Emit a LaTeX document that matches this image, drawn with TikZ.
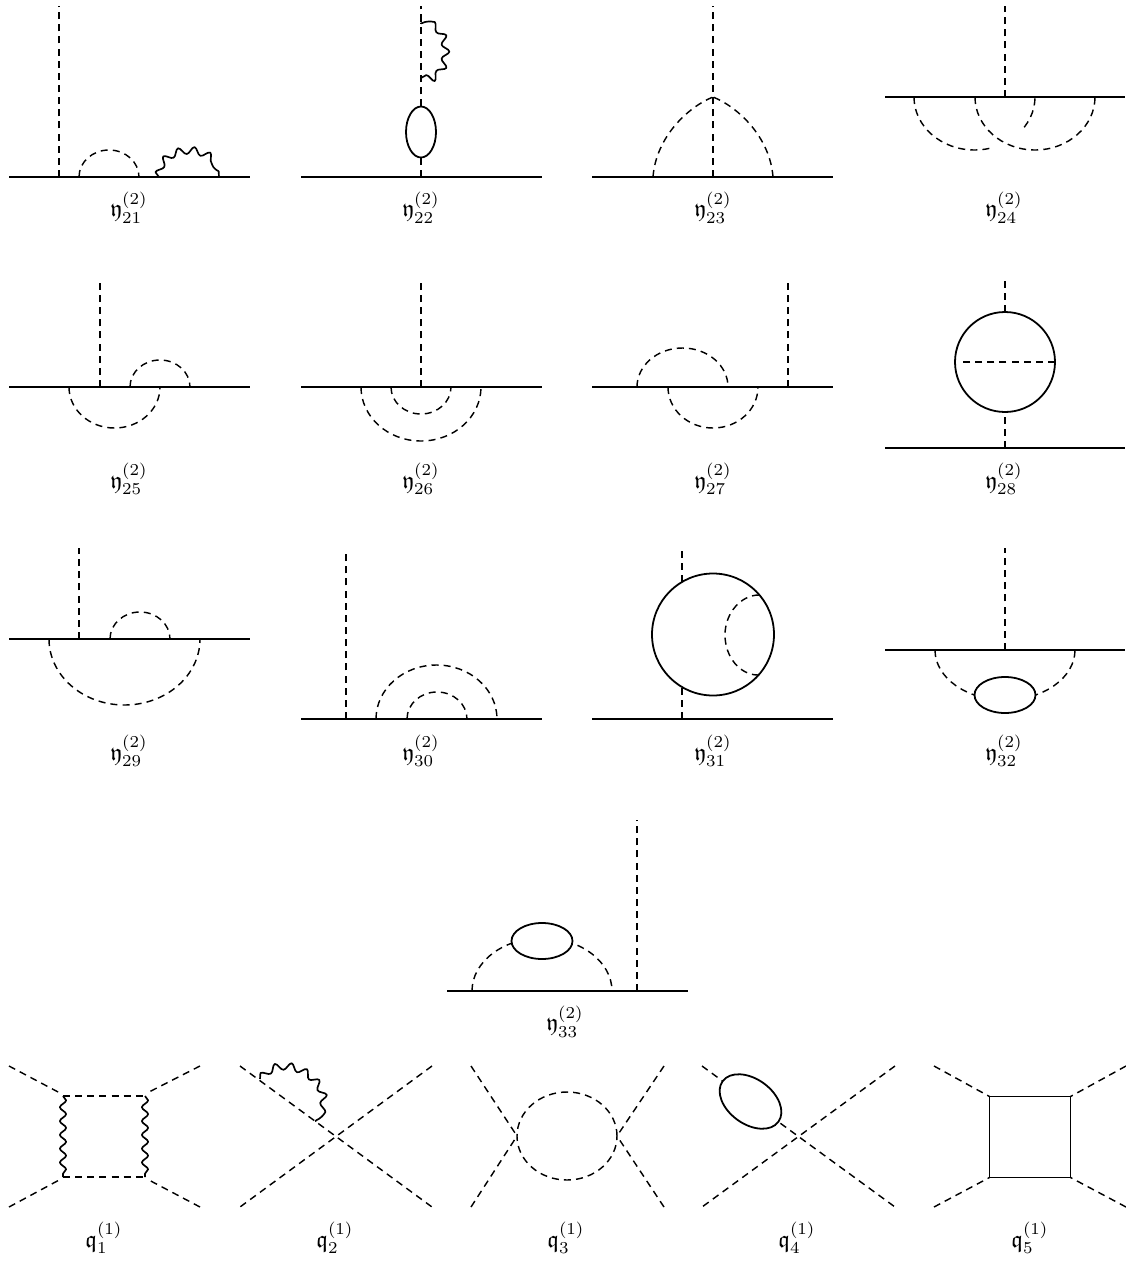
\documentclass[tikz,border=0pt]{standalone}
\usepackage{amsmath,amssymb}
\usetikzlibrary{decorations.pathmorphing,shapes.geometric,calc}
\tikzset{
  x=0.42pt,y=-0.42pt,
  solidl/.style={line width=0.85pt},
  dashl/.style={line width=0.6pt,dash pattern=on 2.95pt off 2.15pt},
  wavel/.style={line width=0.7pt,line join=round,decorate,decoration={snake,segment length=5.8pt,amplitude=1.3pt}},
  wavearc/.style={line width=0.7pt,line join=round,decorate,decoration={snake,segment length=6.4pt,amplitude=1.5pt}},
  thinsolid/.style={line width=0.75pt},
  loopn/.style={ellipse,draw,line width=0.75pt,fill=white,inner sep=0pt,outer sep=0pt},
  dashloop/.style={ellipse,draw,dashl,inner sep=0pt,outer sep=0pt},
  lab/.style={inner sep=0pt,anchor=center},
}
% straight segment between named coordinates
\newcommand{\Seg}[6]{\coordinate (#2a) at (#3,#4); \coordinate (#2b) at (#5,#6); \draw[#1] (#2a) -- (#2b);}
% half ellipse on a base line y0 with apex ytop
\newcommand{\HalfArc}[6]{%
  \pgfmathsetmacro\arcmx{(#3+#4)/2}%
  \pgfmathsetmacro\arckx{0.5523*(#4-#3)/2}%
  \pgfmathsetmacro\arcky{0.5523*(#6-#5)}%
  \coordinate (#2a) at (#3,#5); \coordinate (#2b) at (#4,#5); \coordinate (#2t) at (\arcmx,#6);
  \draw[#1] (#2a) .. controls +(0,\arcky) and +(-\arckx,0) .. (#2t) .. controls +(\arckx,0) and +(0,\arcky) .. (#2b);}
\begin{document}
\begin{tikzpicture}
\useasboundingbox (0,0) rectangle (1126,1261);
% 21
\Seg{solidl}{ai}{9}{177}{250}{177}
\Seg{dashl}{av}{59}{177}{59}{6}
\HalfArc{dashl}{ad}{79}{139}{177}{150}
\HalfArc{wavearc}{aw}{159}{219}{177}{154}
\node[lab] (la) at (129,207.5) {$\mathfrak{y}^{(2)}_{21}$};
% 22
\Seg{solidl}{bi}{301}{177}{542}{177}
\node[loopn,minimum width=30*0.42pt,minimum height=51*0.42pt] (be) at (421,132) {};
\coordinate (bs) at (421,177); \coordinate (bt) at (421,6);
\draw[dashl] (bs) -- (be.south);
\draw[dashl] (be.north) -- (bt);
\coordinate (bwa) at (421,78); \coordinate (bwb) at (421,24);
\draw[wavearc] (bwa) .. controls +(28,4) and +(28,-4) .. (bwb);
\node[lab] (lb) at (421,207.5) {$\mathfrak{y}^{(2)}_{22}$};
% 23
\Seg{solidl}{ci}{592}{177}{833}{177}
\Seg{dashl}{cv}{713}{177}{713}{6}
\coordinate (cl) at (653,177); \coordinate (cr) at (773,177); \coordinate (cp) at (713,97);
\draw[dashl] (cl) .. controls +(3,-40) and +(-25,10) .. (cp);
\draw[dashl] (cr) .. controls +(-3,-40) and +(25,10) .. (cp);
\node[lab] (lc) at (713,207.5) {$\mathfrak{y}^{(2)}_{23}$};
% 24
\Seg{solidl}{di}{885}{97}{1125}{97}
\Seg{dashl}{dv}{1005}{97}{1005}{6}
\begin{scope}
  \clip (880,90) rectangle (991,160) (1022,90) rectangle (1040,160);
  \HalfArc{dashl}{dd}{914}{1035}{97}{150}
\end{scope}
\HalfArc{dashl}{de}{975}{1095}{97}{150}
\node[lab] (ld) at (1004,207.5) {$\mathfrak{y}^{(2)}_{24}$};
% 25
\Seg{solidl}{ei}{9}{387}{250}{387}
\Seg{dashl}{ev}{100}{387}{100}{282}
\HalfArc{dashl}{ed}{130}{190}{387}{360}
\HalfArc{dashl}{ef}{69}{160}{387}{428}
\node[lab] (le) at (129,479) {$\mathfrak{y}^{(2)}_{25}$};
% 26
\Seg{solidl}{fi}{301}{387}{542}{387}
\Seg{dashl}{fv}{421}{387}{421}{282}
\HalfArc{dashl}{fd}{391}{451}{387}{414}
\HalfArc{dashl}{ff}{361}{481}{387}{441}
\node[lab] (lf) at (421,479) {$\mathfrak{y}^{(2)}_{26}$};
% 27
\Seg{solidl}{gi}{592}{387}{833}{387}
\Seg{dashl}{gv}{788}{387}{788}{282}
\HalfArc{dashl}{gd}{637}{728}{387}{348}
\HalfArc{dashl}{gf}{668}{758}{387}{428}
\node[lab] (lg) at (713,479) {$\mathfrak{y}^{(2)}_{27}$};
% 28
\Seg{solidl}{hi}{885}{448}{1125}{448}
\node[circle,draw,thinsolid,minimum size=100*0.42pt,inner sep=0pt,outer sep=0pt] (hc) at (1005,362) {};
\coordinate (hb) at (1005,448); \coordinate (ht) at (1005,277); \coordinate (hw) at (963,362);
\draw[dashl] (hb) -- (hc.south);
\draw[dashl] (hc.north) -- (ht);
\draw[dashl] (hc.east) -- (hw);
\node[lab] (lh) at (1004,479) {$\mathfrak{y}^{(2)}_{28}$};
% 29
\Seg{solidl}{ii}{9}{639}{250}{639}
\Seg{dashl}{iv}{79}{639}{79}{548}
\HalfArc{dashl}{id}{110}{170}{639}{612}
\HalfArc{dashl}{if}{49}{200}{639}{705}
\node[lab] (li) at (129,751) {$\mathfrak{y}^{(2)}_{29}$};
% 30
\Seg{solidl}{ji}{301}{719}{542}{719}
\Seg{dashl}{jv}{346}{719}{346}{550}
\HalfArc{dashl}{jd}{376}{497}{719}{665}
\HalfArc{dashl}{jf}{407}{467}{719}{692}
\node[lab] (lj) at (421,751) {$\mathfrak{y}^{(2)}_{30}$};
% 31
\Seg{solidl}{ki}{592}{719}{833}{719}
\Seg{dashl}{kv}{682}{719}{682}{687}
\Seg{dashl}{ku}{682}{582}{682}{548}
\node[circle,draw,thinsolid,minimum size=122*0.42pt,inner sep=0pt,outer sep=0pt] (kc) at (713,634.5) {};
\coordinate (kpa) at (759,595); \coordinate (kpm) at (725,635); \coordinate (kpb) at (758,675);
\draw[dashl] (kpa) .. controls +(-18,0) and +(0,-22) .. (kpm) .. controls +(0,22) and +(-18,0) .. (kpb);
\node[lab] (lk) at (713,751) {$\mathfrak{y}^{(2)}_{31}$};
% 32
\Seg{solidl}{li}{885}{650}{1125}{650}
\Seg{dashl}{lv}{1005}{650}{1005}{548}
\HalfArc{dashl}{ld}{935}{1075}{650}{700}
\node[loopn,minimum width=61*0.42pt,minimum height=36*0.42pt] (le2) at (1005,695) {};
\node[lab] (ll) at (1004,751) {$\mathfrak{y}^{(2)}_{32}$};
% 33
\Seg{solidl}{mi}{447}{991}{688}{991}
\Seg{dashl}{mv}{637}{991}{637}{820}
\HalfArc{dashl}{md}{472}{612}{991}{938}
\node[loopn,minimum width=61*0.42pt,minimum height=36*0.42pt] (me) at (542,941) {};
\node[lab] (lm) at (565,1021.5) {$\mathfrak{y}^{(2)}_{33}$};
% q1
\Seg{dashl}{na}{9}{1066}{60}{1093}
\Seg{dashl}{nb}{200}{1066}{147}{1093}
\Seg{dashl}{nc}{9}{1207}{61}{1179}
\Seg{dashl}{nd}{200}{1207}{147}{1179}
\coordinate (n1) at (63,1096); \coordinate (n2) at (145,1096); \coordinate (n3) at (145,1177); \coordinate (n4) at (63,1177);
\draw[dashl] (n1) -- (n2);
\draw[dashl] (n4) -- (n3);
\draw[wavel] (n1) -- (n4);
\draw[wavel] (n2) -- (n3);
\node[lab] (qa) at (104,1238) {$\mathfrak{q}^{(1)}_{1}$};
% q2
\Seg{dashl}{oa}{240}{1066}{432}{1207}
\Seg{dashl}{ob}{432}{1066}{240}{1207}
\coordinate (owa) at (260,1079); \coordinate (owb) at (315,1121);
\draw[wavearc] (owa) .. controls (285,1050) and (340,1090) .. (owb);
\node[lab] (qb) at (335,1238) {$\mathfrak{q}^{(1)}_{2}$};
% q3
\node[dashloop,minimum width=100*0.42pt,minimum height=88*0.42pt] (pc) at (567,1136) {};
\coordinate (p1) at (471,1066); \coordinate (p2) at (664,1066); \coordinate (p3) at (471,1207); \coordinate (p4) at (664,1207);
\draw[dashl] (p1) -- (pc.west);
\draw[dashl] (p3) -- (pc.west);
\draw[dashl] (p2) -- (pc.east);
\draw[dashl] (p4) -- (pc.east);
\node[lab] (qc) at (566,1238) {$\mathfrak{q}^{(1)}_{3}$};
% q4
\Seg{dashl}{ra}{702}{1066}{895}{1207}
\Seg{dashl}{rb}{895}{1066}{702}{1207}
\node[loopn,rotate=-36,minimum width=69*0.42pt,minimum height=45*0.42pt] (re) at (750.5,1101.5) {};
\node[lab] (qd) at (797,1238) {$\mathfrak{q}^{(1)}_{4}$};
% q5
\node[rectangle,draw,thinsolid,minimum width=81*0.42pt,minimum height=81*0.42pt,inner sep=0pt,outer sep=0pt] (sq) at (1030,1137) {};
\coordinate (s1) at (934,1066); \coordinate (s2) at (1126,1066); \coordinate (s3) at (934,1207); \coordinate (s4) at (1126,1207);
\draw[dashl] (s1) -- (sq.north west);
\draw[dashl] (s2) -- (sq.north east);
\draw[dashl] (s3) -- (sq.south west);
\draw[dashl] (s4) -- (sq.south east);
\node[lab] (qe) at (1030,1238) {$\mathfrak{q}^{(1)}_{5}$};
\end{tikzpicture}
\end{document}
